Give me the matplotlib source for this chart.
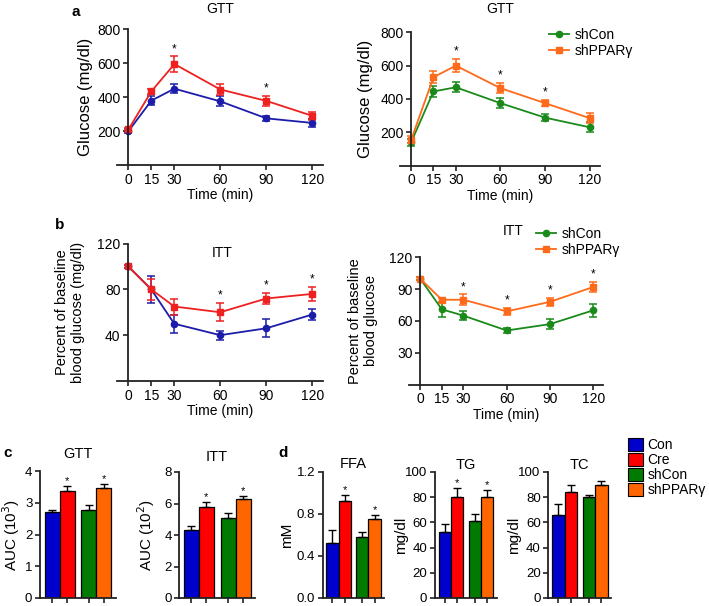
import matplotlib
matplotlib.use('Agg')
import matplotlib.pyplot as plt
from matplotlib.lines import Line2D
from matplotlib.patches import Patch

plt.rcParams['font.family'] = ['Liberation Sans', 'DejaVu Sans']

W, H = 709, 606

# time points (min)
time = [0, 15, 30, 60, 90, 120]

# a: GTT, Con vs Cre
gtt_con = [200, 380, 450, 375, 275, 248]
gtt_con_err = [10, 25, 25, 30, 15, 25]
gtt_cre = [210, 435, 595, 445, 378, 290]
gtt_cre_err = [10, 15, 45, 35, 30, 25]
gtt_cre_stars = [30, 90]

# a: GTT, shCon vs shPPARg
gtt_shcon = [140, 445, 470, 375, 288, 230]
gtt_shcon_err = [20, 35, 30, 30, 20, 30]
gtt_shppar = [155, 530, 600, 465, 375, 285]
gtt_shppar_err = [20, 35, 40, 30, 20, 30]
gtt_shppar_stars = [30, 60, 90]

# b: ITT, Con vs Cre
itt_con = [100, 80, 50, 40, 46, 58]
itt_con_err = [1, 12, 8, 4, 8, 5]
itt_cre = [100, 80, 65, 60, 72, 76]
itt_cre_err = [1, 9, 7, 8, 5, 6]
itt_cre_stars = [60, 90, 120]

# b: ITT, shCon vs shPPARg
itt_shcon = [100, 71, 65, 51, 57, 70]
itt_shcon_err = [1, 7, 4, 2, 5, 6]
itt_shppar = [100, 80, 80, 69, 78, 92]
itt_shppar_err = [1, 2, 5, 3, 4, 5]
itt_shppar_stars = [30, 60, 90, 120]

# c, d: bar groups
groups = ['Con', 'Cre', 'shCon', 'shPPAR\u03b3']
auc_gtt = [2.70, 3.37, 2.78, 3.45]
auc_gtt_err = [0.07, 0.15, 0.15, 0.13]
auc_itt = [4.3, 5.8, 5.1, 6.3]
auc_itt_err = [0.3, 0.3, 0.3, 0.15]
ffa = [0.52, 0.92, 0.58, 0.75]
ffa_err = [0.13, 0.06, 0.05, 0.04]
tg = [52, 80, 61, 80]
tg_err = [7, 7, 6, 6]
tc = [66, 84, 80, 90]
tc_err = [9, 6, 2, 3]
stars_cre_shppar = [1, 3]

line_blue, line_red = '#1c1caa', '#ee2020'
line_green, line_orange = '#1a8a1a', '#ff6a1a'
bar_colors = ['#0000cc', '#ff0000', '#007a00', '#ff6600']

fig = plt.figure(figsize=(W / 100, H / 100), dpi=100)


def px_axes(left, top, right, bottom):
    return fig.add_axes([left / W, 1 - bottom / H, (right - left) / W, (bottom - top) / H])


def style(ax, fs=10):
    for s in ['top', 'right']:
        ax.spines[s].set_visible(False)
    for s in ['left', 'bottom']:
        ax.spines[s].set_linewidth(1.3)
        ax.spines[s].set_color('#222222')
    ax.tick_params(direction='out', length=3.5, width=1.2, labelsize=fs, pad=2, colors='#222222')
    ax.tick_params(labelcolor='black')


def line_panel(ax, series, stars, ylim, yticks, ylabel, ylfs, lpad):
    for y, err, color, marker in series:
        ax.errorbar(time, y, yerr=err, color=color, marker=marker, ms=4.5, lw=1.3,
                    capsize=3, elinewidth=1.1, capthick=1.1)
    up_y, up_err = series[-1][0], series[-1][1]
    for t in stars:
        i = time.index(t)
        ax.annotate('*', (t, up_y[i] + up_err[i]), xytext=(0, 1), textcoords='offset points',
                    ha='center', va='bottom', fontsize=8.5)
    ax.set_xlim(-7.5, 127)
    ax.set_ylim(*ylim)
    ax.set_xticks(time)
    ax.set_yticks(yticks)
    style(ax)
    ax.spines['left'].set_position(('data', 0))
    ax.set_xlabel('Time (min)', fontsize=10, labelpad=1)
    ax.set_ylabel(ylabel, fontsize=ylfs, labelpad=lpad)


def bar_panel(ax, vals, errs, stars, ylim, yticks, title, ylabel, lpad, tpad, fmt=None):
    pos = [0, 1, 2.45, 3.45]
    ax.bar(pos, vals, width=1, color=bar_colors, edgecolor='black', linewidth=0.9)
    ax.errorbar(pos, vals, yerr=[[0] * 4, errs], fmt='none', ecolor='black',
                capsize=3, elinewidth=1, capthick=1)
    for i in stars:
        ax.annotate('*', (pos[i], vals[i] + errs[i]), xytext=(0, 0), textcoords='offset points',
                    ha='center', va='bottom', fontsize=8)
    ax.set_xlim(-0.8, 4.25)
    ax.set_ylim(*ylim)
    ax.set_xticks(pos)
    ax.set_xticklabels([])
    ax.set_yticks(yticks)
    if fmt:
        ax.set_yticklabels([fmt % v for v in yticks])
    style(ax, fs=9.5)
    ax.set_title(title, fontsize=10.5, pad=tpad)
    ax.set_ylabel(ylabel, fontsize=11, labelpad=lpad)


# ---- a ----
ax = px_axes(117, 29.3, 323, 165)
line_panel(ax, [(gtt_con, gtt_con_err, line_blue, 'o'), (gtt_cre, gtt_cre_err, line_red, 's')],
           gtt_cre_stars, (0, 800), [200, 400, 600, 800], 'Glucose (mg/dl)', 12, 3)
ax.set_title('GTT', fontsize=10, pad=12)

ax = px_axes(400, 32.3, 600, 165.6)
line_panel(ax, [(gtt_shcon, gtt_shcon_err, line_green, 'o'), (gtt_shppar, gtt_shppar_err, line_orange, 's')],
           gtt_shppar_stars, (0, 800), [200, 400, 600, 800], 'Glucose (mg/dl)', 12, 5)
ax.set_title('GTT', fontsize=10, pad=14)
h = [Line2D([], [], color=line_green, marker='o', ms=4.5, lw=1.3),
     Line2D([], [], color=line_orange, marker='s', ms=4.5, lw=1.3)]
fig.legend(h, ['shCon', 'shPPAR\u03b3'], loc='upper left', bbox_to_anchor=(543 / W, 1 - 22 / H),
           frameon=False, fontsize=10, handlelength=1.5, handletextpad=0.4, labelspacing=0.15,
           borderaxespad=0)

# ---- b ----
ax = px_axes(116.7, 243.5, 323, 381)
line_panel(ax, [(itt_con, itt_con_err, line_blue, 'o'), (itt_cre, itt_cre_err, line_red, 's')],
           itt_cre_stars, (0, 120), [40, 80, 120], 'Percent of baseline\nblood glucose (mg/dl)', 10.5, 9)
ax.text(0.51, 0.93, 'ITT', transform=ax.transAxes, ha='center', va='center', fontsize=10)

ax = px_axes(409.3, 257.3, 603.3, 384.6)
line_panel(ax, [(itt_shcon, itt_shcon_err, line_green, 'o'), (itt_shppar, itt_shppar_err, line_orange, 's')],
           itt_shppar_stars, (0, 120), [30, 60, 90, 120], 'Percent of baseline\nblood glucose', 10.5, 8)
fig.text(513 / W, 1 - 231 / H, 'ITT', ha='center', va='center', fontsize=10)
fig.legend(h, ['shCon', 'shPPAR\u03b3'], loc='upper left', bbox_to_anchor=(530 / W, 1 - 221 / H),
           frameon=False, fontsize=10, handlelength=1.5, handletextpad=0.4, labelspacing=0.15,
           borderaxespad=0)

# ---- c ----
ax = px_axes(40, 471, 40 + 5.05 * 15, 598)
bar_panel(ax, auc_gtt, auc_gtt_err, stars_cre_shppar, (0, 4), [0, 1, 2, 3, 4], 'GTT', 'AUC (10$^3$)', 2, 9)
ax = px_axes(179.3, 472, 179.3 + 5.05 * 15, 598)
bar_panel(ax, auc_itt, auc_itt_err, stars_cre_shppar, (0, 8), [0, 2, 4, 6, 8], 'ITT', 'AUC (10$^2$)', 5, 8)

# ---- d ----
ax = px_axes(322.7, 472, 322.7 + 5.05 * 12.2, 598)
bar_panel(ax, ffa, ffa_err, stars_cre_shppar, (0, 1.2), [0, 0.4, 0.8, 1.2], 'FFA', 'mM', 2, 3, fmt='%.1f')
ax = px_axes(435, 472, 435 + 5.05 * 12.3, 598)
bar_panel(ax, tg, tg_err, stars_cre_shppar, (0, 100), [0, 20, 40, 60, 80, 100], 'TG', 'mg/dl', -2, 2)
ax = px_axes(548.3, 472, 548.3 + 5.05 * 12.5, 598)
bar_panel(ax, tc, tc_err, [], (0, 100), [0, 20, 40, 60, 80, 100], 'TC', 'mg/dl', -2, 2)

bh = [Patch(facecolor=c, edgecolor='black', linewidth=0.8) for c in bar_colors]
fig.legend(bh, groups, loc='upper left', bbox_to_anchor=(622 / W, 1 - 432 / H), frameon=False,
           fontsize=10, handlelength=1.1, handleheight=1.1, handletextpad=0.35,
           labelspacing=0.05, borderaxespad=0)

# panel letters
for x, y, s in [(76, 12, 'a'), (60, 225, 'b'), (8, 453, 'c'), (283, 453, 'd')]:
    fig.text(x / W, 1 - y / H, s, fontsize=11, fontweight='bold', ha='center', va='center')

fig.savefig('out.png', dpi=100)
